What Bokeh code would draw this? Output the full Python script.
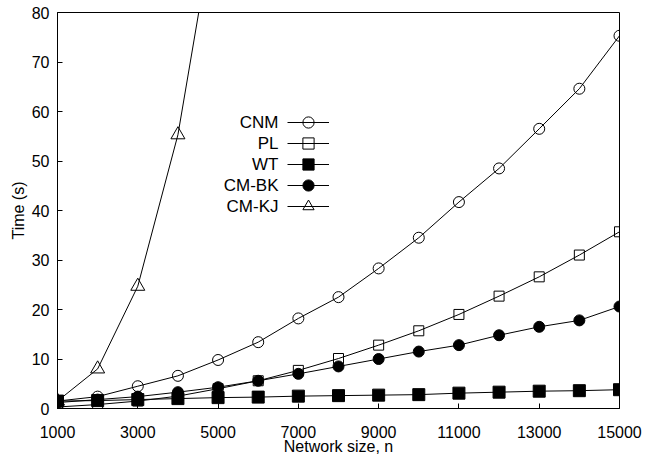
from bokeh.plotting import figure
from bokeh.models import Range1d, FixedTicker, Legend, LegendItem, LabelSet, ColumnDataSource
from bokeh.core.properties import value
from bokeh.embed import file_html
from bokeh.resources import INLINE

# ---- data ----
n = [1000, 2000, 3000, 4000, 5000, 6000, 7000, 8000, 9000, 10000,
     11000, 12000, 13000, 14000, 15000]
cnm = [1.5, 2.4, 4.5, 6.6, 9.8, 13.4, 18.2, 22.5, 28.3, 34.5,
       41.7, 48.5, 56.5, 64.6, 75.3]
pl = [0.3, 0.8, 1.5, 2.5, 4.0, 5.6, 7.7, 10.1, 12.8, 15.7,
      19.0, 22.7, 26.6, 31.0, 35.7]
wt = [1.5, 1.6, 1.8, 2.0, 2.2, 2.3, 2.5, 2.6, 2.7, 2.8,
      3.1, 3.3, 3.5, 3.6, 3.8]
cmbk = [1.2, 1.8, 2.4, 3.3, 4.3, 5.6, 7.0, 8.5, 10.0, 11.5,
        12.8, 14.8, 16.5, 17.8, 20.6]
cmkj_n = [1000, 2000, 3000, 4000, 5000]
cmkj = [1.5, 8.0, 24.7, 55.3, 103.0]

series_names = ["CNM", "PL", "WT", "CM-BK", "CM-KJ"]
x_ticks = [1000, 3000, 5000, 7000, 9000, 11000, 13000, 15000]
y_ticks = [0, 10, 20, 30, 40, 50, 60, 70, 80]

FONT = "Liberation Sans"

p = figure(width=651, height=459, output_backend="svg", toolbar_location=None,
           x_range=Range1d(1000, 15000), y_range=Range1d(0, 80),
           min_border_left=57, min_border_right=32, min_border_top=12,
           min_border_bottom=51)

p.xgrid.visible = False
p.ygrid.visible = False
p.outline_line_color = "black"
p.outline_line_width = 1
p.background_fill_color = "white"
p.border_fill_color = "white"

for ax in (p.xaxis[0], p.yaxis[0]):
    ax.axis_line_color = "black"
    ax.major_tick_in = 5
    ax.major_tick_out = 0
    ax.minor_tick_line_color = None
    ax.major_tick_line_color = "black"
    ax.major_label_text_font = FONT
    ax.major_label_text_font_size = "16px"
    ax.major_label_text_color = "black"
    ax.axis_label_text_font = FONT
    ax.axis_label_text_font_size = "16px"
    ax.axis_label_text_font_style = "normal"
    ax.axis_label_text_color = "black"

p.xaxis.ticker = FixedTicker(ticks=x_ticks)
p.yaxis.ticker = FixedTicker(ticks=y_ticks)
p.xaxis.axis_label = "Network size, n"
p.yaxis.axis_label = "Time (s)"
p.xaxis.major_label_standoff = 17
p.xaxis.axis_label_standoff = -3
p.yaxis.major_label_standoff = 8
p.yaxis.axis_label_standoff = 2

specs = [
    (n, cnm, "circle", 11, None),
    (n, pl, "square", 10, None),
    (n, wt, "square", 12, "black"),
    (n, cmbk, "circle", 11, "black"),
    (cmkj_n, cmkj, "triangle", 14, None),
]

# legend rows (screen px from the frame's bottom-left)
row_y = [286, 265, 244, 223, 202]
legend_x = 230
glyph_h = 28

for name, (xs, ys, marker, size, fill), ry in zip(series_names, specs, row_y):
    src = ColumnDataSource(dict(x=xs, y=ys))
    lr = p.line("x", "y", source=src, line_color="black", line_width=1)
    sr = p.scatter("x", "y", source=src, marker=marker, size=size,
                   line_color="black", line_width=1,
                   fill_color=fill if fill else None,
                   fill_alpha=1.0 if fill else 0.0)
    lg = Legend(items=[LegendItem(label=" ", renderers=[lr, sr])],
                location=(legend_x, ry - glyph_h // 2), orientation="vertical",
                glyph_width=42, glyph_height=glyph_h, label_height=glyph_h,
                label_width=1, label_standoff=0, spacing=0, padding=0,
                margin=0, border_line_color=None, background_fill_alpha=0,
                label_text_font_size="1px")
    p.add_layout(lg, "center")

lab_src = ColumnDataSource(dict(x=[221] * 5, y=row_y, t=series_names))
labels = LabelSet(x="x", y="y", text="t", source=lab_src,
                  x_units="screen", y_units="screen",
                  text_align="right", text_baseline="middle",
                  text_font=value(FONT), text_font_size="17px",
                  text_color="black")
p.add_layout(labels)

open("out.html", "w").write(file_html(p, INLINE))
